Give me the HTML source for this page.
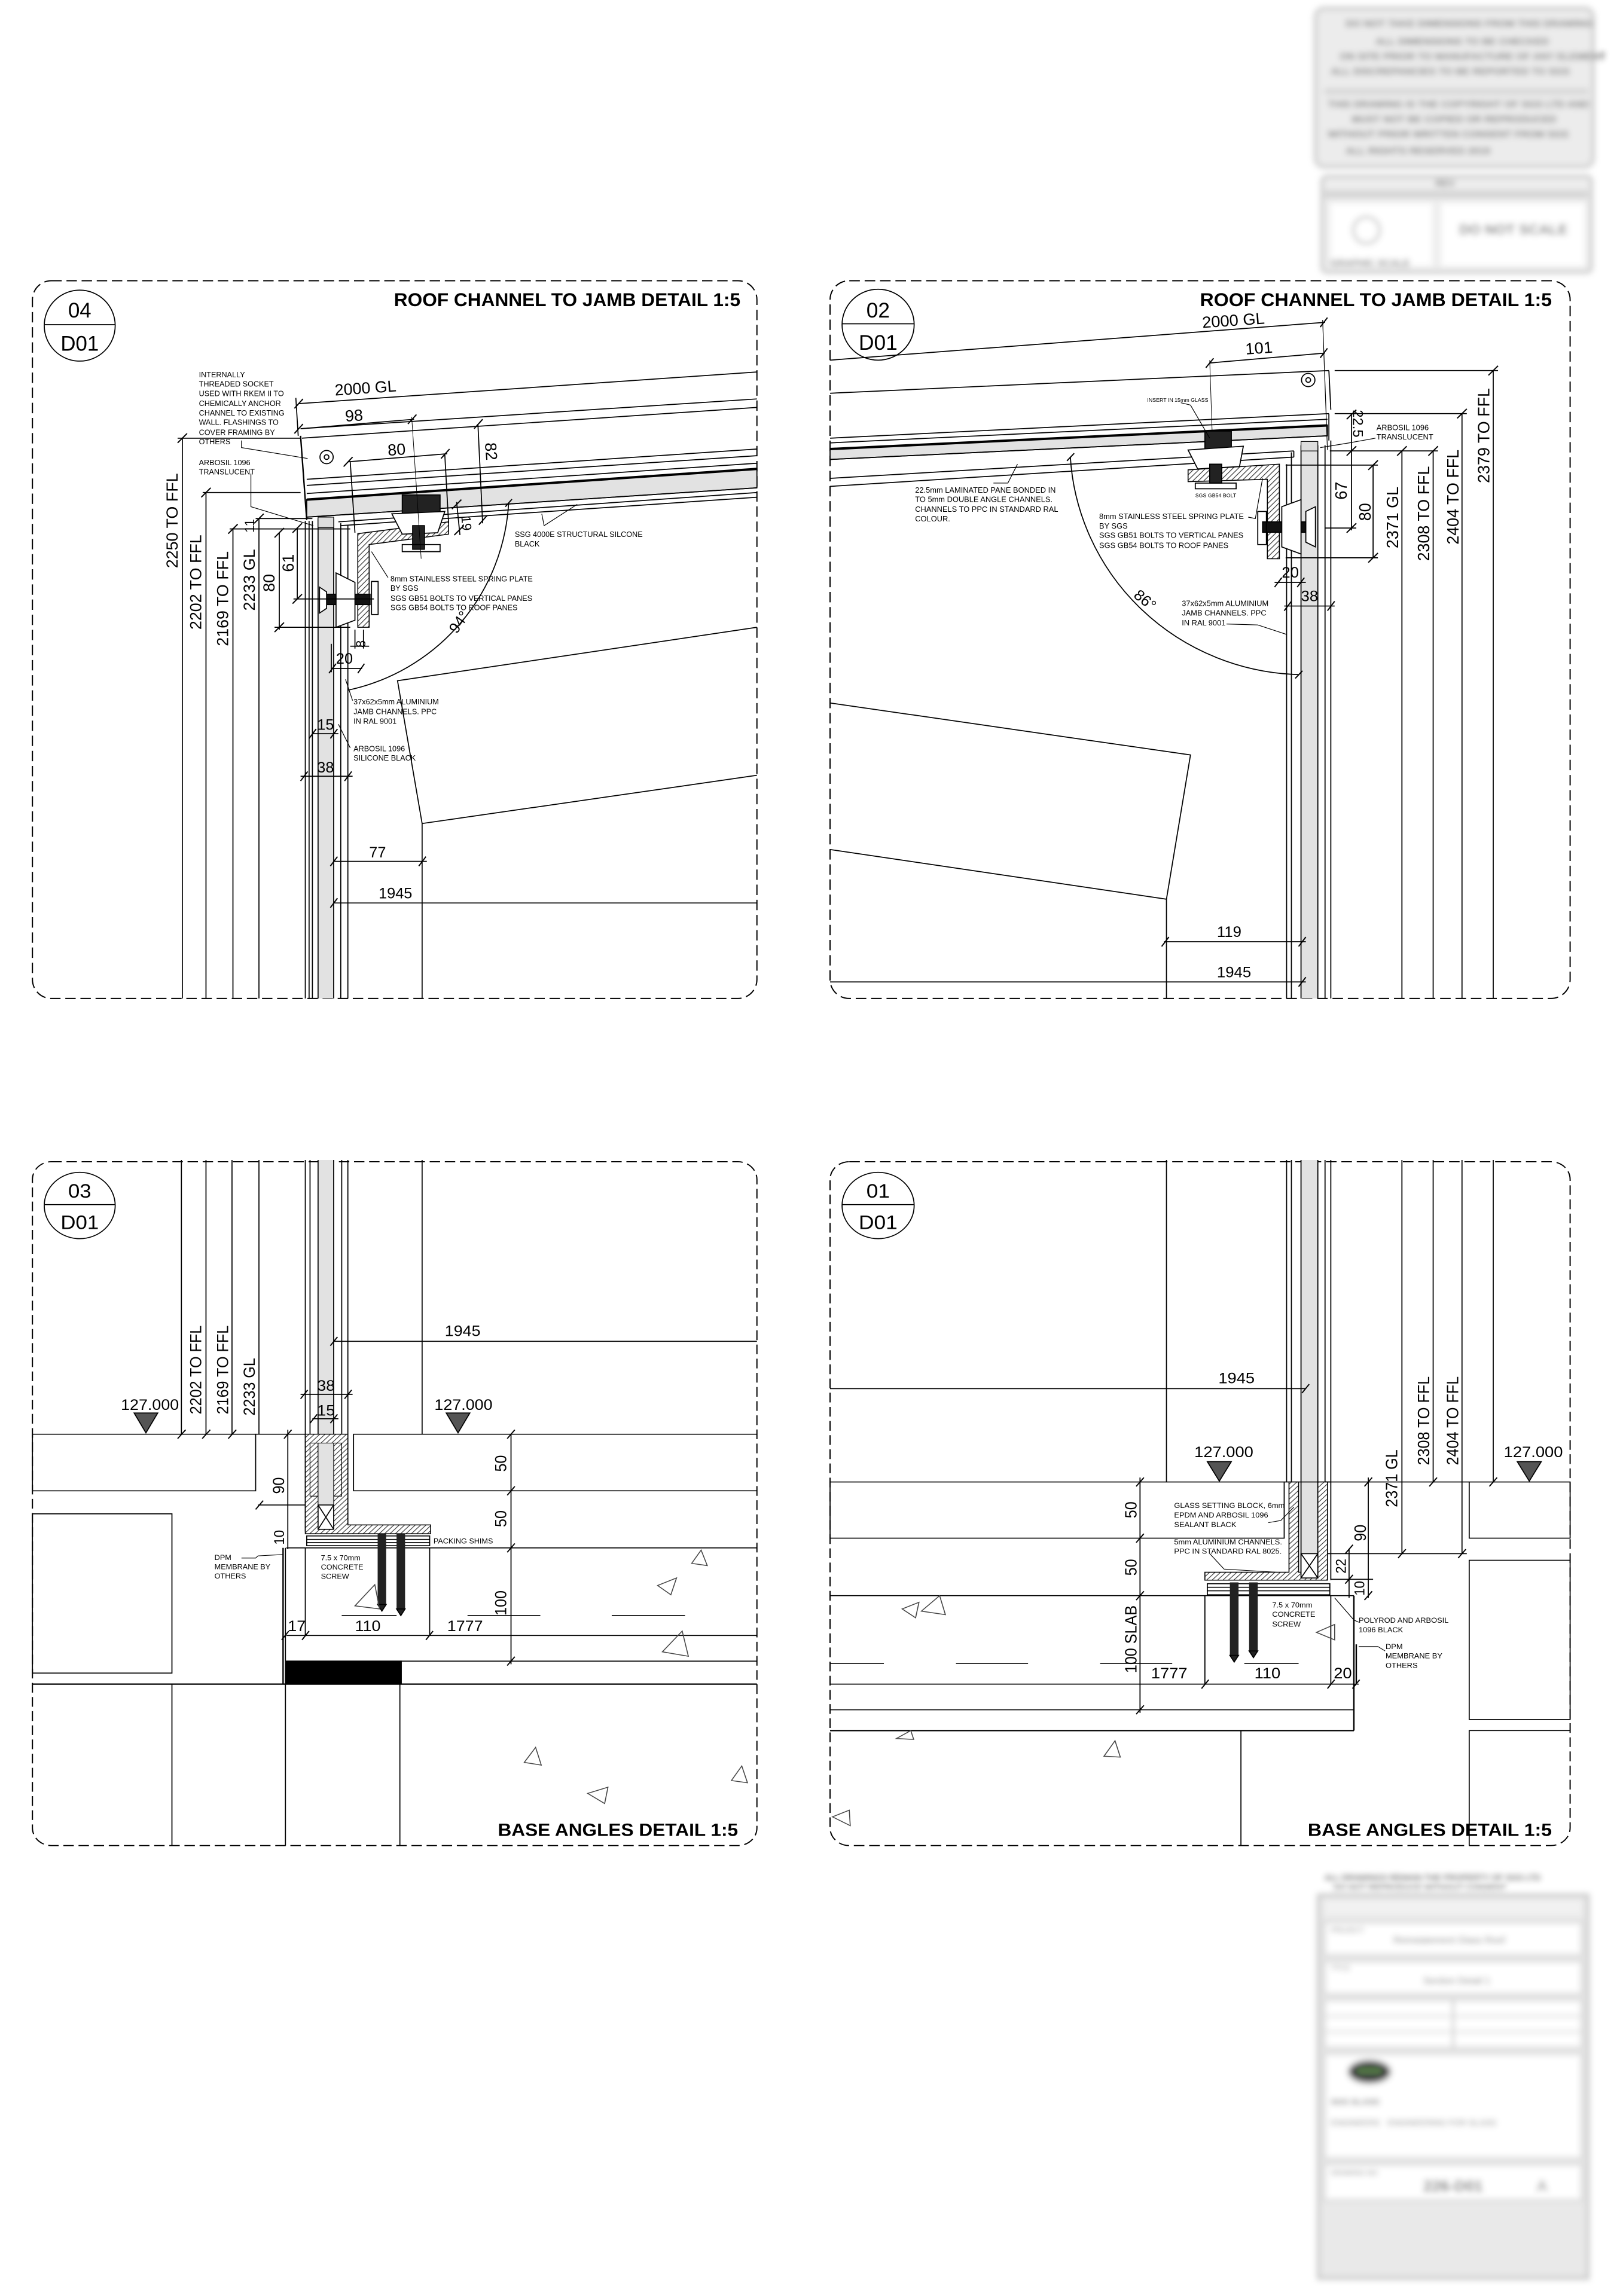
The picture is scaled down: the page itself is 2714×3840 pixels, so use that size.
<!DOCTYPE html>
<html><head><meta charset="utf-8"><style>
html,body{margin:0;padding:0;background:#fff;}
svg{display:block;}
text{font-family:"Liberation Sans",sans-serif;fill:#000;}
</style></head><body>
<svg width="2714" height="3840" viewBox="0 0 2714 3840" xmlns="http://www.w3.org/2000/svg">
<defs>
<pattern id="h" width="8" height="8" patternUnits="userSpaceOnUse" patternTransform="rotate(45)"><rect width="8" height="8" fill="#fff"/><line x1="0" y1="0" x2="0" y2="8" stroke="#333" stroke-width="3"/></pattern>
<filter id="bl"><feGaussianBlur stdDeviation="5"/></filter>
</defs>
<rect width="2714" height="3840" fill="#fff"/>

<!-- TOP RIGHT TITLE BLOCK (blurred) -->
<g filter="url(#bl)" opacity="0.75">
<rect x="2200" y="14" width="464" height="265" rx="14" fill="#e6e6e6" stroke="#bbb" stroke-width="6"/>
<rect x="2215" y="148" width="440" height="10" fill="#c8c8c8"/>
<g font-size="17" fill="#999" font-weight="bold">
<text x="2250" y="45" fill="#999">DO NOT TAKE DIMENSIONS FROM THIS DRAWING</text>
<text x="2300" y="75" fill="#999">ALL DIMENSIONS TO BE CHECKED</text>
<text x="2240" y="100" fill="#999">ON SITE PRIOR TO MANUFACTURE OF ANY ELEMENT</text>
<text x="2225" y="125" fill="#999">ALL DISCREPANCIES TO BE REPORTED TO SGS</text>
<text x="2220" y="180" fill="#999">THIS DRAWING IS THE COPYRIGHT OF SGS LTD AND</text>
<text x="2260" y="205" fill="#999">MUST NOT BE COPIED OR REPRODUCED</text>
<text x="2220" y="230" fill="#999">WITHOUT PRIOR WRITTEN CONSENT FROM SGS</text>
<text x="2250" y="258" fill="#999">ALL RIGHTS RESERVED 2019</text>
</g>
<rect x="2211" y="295" width="450" height="160" rx="8" fill="#e8e8e8" stroke="#bbb" stroke-width="6"/>
<rect x="2215" y="318" width="440" height="14" fill="#c8c8c8"/>
<rect x="2410" y="340" width="240" height="105" fill="#fff"/>
<rect x="2225" y="340" width="170" height="105" fill="#fff"/>
<circle cx="2285" cy="385" r="22" fill="none" stroke="#aaa" stroke-width="4"/>
<text x="2440" y="392" font-size="24" fill="#aaa" font-weight="bold">DO NOT SCALE</text>
<text x="2400" y="312" font-size="16" fill="#888" font-weight="bold">REV</text>
<text x="2225" y="445" font-size="16" fill="#777" font-weight="bold">GRAPHIC SCALE</text>
</g>

<!-- BOTTOM RIGHT TITLE BLOCK (blurred) -->
<g filter="url(#bl)" opacity="0.8">
<text x="2215" y="3145" font-size="14" fill="#aaa">ALL DRAWINGS REMAIN THE PROPERTY OF SGS LTD</text>
<text x="2230" y="3162" font-size="14" fill="#aaa">DO NOT REPRODUCE WITHOUT CONSENT</text>
<rect x="2205" y="3170" width="450" height="640" fill="#e4e4e4" stroke="#bbb" stroke-width="6"/>
<rect x="2215" y="3178" width="430" height="25" fill="#eee"/>
<rect x="2215" y="3215" width="430" height="55" fill="#fff" stroke="#ccc" stroke-width="4"/>
<text x="2225" y="3232" font-size="12" fill="#888">PROJECT</text>
<text x="2330" y="3250" font-size="16" fill="#999">Reinstatement Glass Roof</text>
<rect x="2215" y="3280" width="430" height="55" fill="#fff" stroke="#ccc" stroke-width="4"/>
<text x="2225" y="3295" font-size="12" fill="#888">TITLE</text>
<text x="2380" y="3318" font-size="16" fill="#999">Section Detail 1</text>
<rect x="2215" y="3345" width="430" height="80" fill="#fff" stroke="#ccc" stroke-width="4"/>
<line x1="2430" y1="3345" x2="2430" y2="3425" stroke="#bbb" stroke-width="4"/>
<line x1="2215" y1="3372" x2="2645" y2="3372" stroke="#ccc" stroke-width="3"/>
<line x1="2215" y1="3398" x2="2645" y2="3398" stroke="#ccc" stroke-width="3"/>
<rect x="2215" y="3435" width="430" height="175" fill="#fff" stroke="#ccc" stroke-width="4"/>
<ellipse cx="2290" cy="3465" rx="36" ry="20" fill="#111"/>
<rect x="2270" y="3458" width="40" height="10" fill="#2a5a1a"/>
<text x="2225" y="3520" font-size="14" fill="#777" font-weight="bold">SGS GLASS</text>
<text x="2225" y="3555" font-size="14" fill="#666">ENGINEERS</text>
<text x="2320" y="3555" font-size="14" fill="#888">ENGINEERING FOR GLASS</text>
<rect x="2215" y="3620" width="430" height="60" fill="#fff" stroke="#ccc" stroke-width="4"/>
<text x="2225" y="3638" font-size="12" fill="#888">DRAWING NO</text>
<text x="2380" y="3665" font-size="26" fill="#777" font-weight="bold">226-D01</text>
<text x="2570" y="3665" font-size="26" fill="#888">A</text>
</g>

<!-- ============ PANEL 04 ============ -->
<g transform="translate(40,460) scale(0.7908)" stroke="#000" fill="none" stroke-width="2.2">
<rect x="18" y="12" width="1532" height="1518" rx="40" stroke-dasharray="22,10" stroke-width="2.5"/>
<circle cx="118" cy="107" r="75"/>
<line x1="43" y1="105" x2="193" y2="105"/>
<g stroke="none">
<text x="118" y="90" font-size="44" text-anchor="middle">04</text>
<text x="118" y="160" font-size="44" text-anchor="middle">D01</text>
<text x="1515" y="66" font-size="40" font-weight="bold" text-anchor="end">ROOF CHANNEL TO JAMB DETAIL 1:5</text>
</g>
<line x1="580" y1="272" x2="1550" y2="205"/>
<line x1="585" y1="325" x2="1550" y2="262"/>
<line x1="588" y1="345" x2="1550" y2="280"/>
<polygon points="598,475 1550,410 1550,450 598,512" fill="#e2e2e2"/>
<line x1="598" y1="432" x2="1550" y2="368"/>
<line x1="598" y1="445" x2="1550" y2="382"/>
<line x1="598" y1="462" x2="1550" y2="398"/>
<line x1="598" y1="475" x2="1550" y2="410" stroke-width="5"/>
<line x1="598" y1="512" x2="1550" y2="450"/>
<line x1="665" y1="522" x2="1550" y2="460"/>
<line x1="670" y1="530" x2="1550" y2="470"/>
<line x1="585" y1="340" x2="598" y2="518" stroke-width="3"/>
<circle cx="640" cy="385" r="14"/><circle cx="640" cy="385" r="5"/>
<rect x="622" y="515" width="33" height="1015" fill="#e2e2e2" stroke="none"/>
<line x1="595" y1="520" x2="595" y2="1530"/>
<line x1="603" y1="520" x2="603" y2="1530"/>
<line x1="610" y1="520" x2="610" y2="1530"/>
<line x1="622" y1="515" x2="622" y2="1530"/>
<line x1="655" y1="515" x2="655" y2="1530"/>
<line x1="670" y1="525" x2="670" y2="1530"/>
<line x1="685" y1="530" x2="685" y2="1530"/>
<rect x="622" y="512" width="33" height="22" fill="#ddd" stroke-width="1.5"/>
<polygon points="706,547 898,522 898,548 730,570 730,745 706,745" fill="url(#h)" stroke-width="2"/>
<rect x="800" y="465" width="80" height="40" fill="#222"/>
<polygon points="778,505 890,500 875,545 800,548" fill="#fff"/>
<rect x="822" y="530" width="25" height="50" fill="#222"/>
<rect x="800" y="570" width="80" height="15"/>
<rect x="632" y="675" width="100" height="22" fill="#111"/>
<rect x="735" y="648" width="14" height="70"/>
<polygon points="660,630 700,650 700,730 660,745" fill="#fff"/>
<polygon points="625,660 640,670 640,705 625,715" fill="#fff"/>
<line x1="335" y1="345" x2="335" y2="1530"/>
<line x1="385" y1="460" x2="385" y2="1530"/>
<line x1="442" y1="535" x2="442" y2="1530"/>
<line x1="497" y1="515" x2="497" y2="1530"/>
<line x1="540" y1="545" x2="540" y2="750"/>
<line x1="578" y1="535" x2="578" y2="685"/>
<line x1="325" y1="345" x2="585" y2="345"/>
<line x1="378" y1="460" x2="585" y2="460"/>
<line x1="435" y1="537" x2="690" y2="537"/>
<line x1="490" y1="515" x2="610" y2="515"/>
<line x1="530" y1="745" x2="690" y2="745"/>
<line x1="570" y1="685" x2="740" y2="685"/>
<g stroke-width="2.5">
<line x1="325" y1="355" x2="345" y2="335"/><line x1="375" y1="470" x2="395" y2="450"/>
<line x1="432" y1="547" x2="452" y2="527"/><line x1="487" y1="525" x2="507" y2="505"/>
<line x1="530" y1="755" x2="550" y2="735"/><line x1="568" y1="695" x2="588" y2="675"/>
<line x1="530" y1="555" x2="550" y2="535"/><line x1="568" y1="545" x2="588" y2="525"/>
</g>
<g stroke="none" font-size="34">
<text transform="translate(325,620) rotate(-90)">2250 TO FFL</text>
<text transform="translate(375,750) rotate(-90)">2202 TO FFL</text>
<text transform="translate(432,785) rotate(-90)">2169 TO FFL</text>
<text transform="translate(488,710) rotate(-90)">2233 GL</text>
<text transform="translate(530,670) rotate(-90)">80</text>
<text transform="translate(570,628) rotate(-90)">61</text>
<text x="462" y="530" font-size="28" transform="rotate(-90,482,525)">11</text>
</g>
<line x1="580" y1="340" x2="575" y2="260"/>
<line x1="585" y1="325" x2="825" y2="305"/>
<line x1="685" y1="395" x2="895" y2="378"/>
<line x1="820" y1="300" x2="840" y2="600" stroke-width="1.2"/>
<line x1="690" y1="395" x2="700" y2="545"/>
<line x1="890" y1="380" x2="898" y2="525"/>
<line x1="960" y1="315" x2="970" y2="525"/>
<g stroke-width="2.5">
<line x1="572" y1="282" x2="590" y2="262"/><line x1="572" y1="335" x2="590" y2="315"/>
<line x1="812" y1="315" x2="830" y2="295"/><line x1="676" y1="405" x2="695" y2="385"/>
<line x1="882" y1="388" x2="900" y2="368"/><line x1="952" y1="325" x2="970" y2="305"/>
<line x1="962" y1="528" x2="980" y2="508"/>
<line x1="905" y1="495" x2="925" y2="475"/><line x1="910" y1="550" x2="930" y2="530"/>
</g>
<line x1="915" y1="480" x2="922" y2="550"/>
<g stroke="none" font-size="34">
<text x="658" y="255" transform="rotate(-4,658,255)">2000 GL</text>
<text x="680" y="310" transform="rotate(-4,680,310)">98</text>
<text x="770" y="382" transform="rotate(-4,770,382)">80</text>
<text transform="translate(975,355) rotate(86)">82</text>
<text transform="translate(925,510) rotate(86)" font-size="28">19</text>
</g>
<path d="M1025,482 A 430 430 0 0 1 685,878"/>
<line x1="1018" y1="490" x2="1032" y2="474" stroke-width="2.5"/>
<g stroke="none"><text transform="translate(915,760) rotate(-55)" font-size="32">94°</text></g>
<polyline points="1550,745 790,858 842,1160 1550,1058"/>
<line x1="842" y1="1160" x2="842" y2="1530"/>
<line x1="700" y1="750" x2="700" y2="790"/><line x1="718" y1="750" x2="718" y2="790"/>
<line x1="690" y1="785" x2="730" y2="785"/>
<line x1="650" y1="832" x2="715" y2="832"/>
<line x1="650" y1="780" x2="650" y2="840"/>
<line x1="610" y1="970" x2="665" y2="970"/>
<line x1="585" y1="1060" x2="695" y2="1060"/>
<line x1="655" y1="1240" x2="852" y2="1240"/>
<line x1="655" y1="1328" x2="1550" y2="1328"/>
<g stroke-width="2.5">
<line x1="645" y1="842" x2="660" y2="822"/><line x1="706" y1="842" x2="720" y2="822"/>
<line x1="603" y1="980" x2="618" y2="960"/><line x1="648" y1="980" x2="663" y2="960"/>
<line x1="585" y1="1070" x2="600" y2="1050"/><line x1="678" y1="1070" x2="693" y2="1050"/>
<line x1="648" y1="1250" x2="663" y2="1230"/><line x1="835" y1="1250" x2="850" y2="1230"/>
<line x1="648" y1="1338" x2="663" y2="1318"/>
</g>
<g stroke="none" font-size="32">
<text transform="translate(722,788) rotate(-90)" font-size="28">8</text>
<text x="660" y="822">20</text>
<text x="620" y="962">15</text>
<text x="620" y="1052">38</text>
<text x="730" y="1232">77</text>
<text x="750" y="1318">1945</text>
</g>
<polyline points="460,350 460,365 600,388" stroke-width="1.5"/>
<polyline points="480,420 480,490 612,530" stroke-width="1.5"/>
<polyline points="1095,505 1100,530 1170,485" stroke-width="1.5"/>
<polyline points="735,585 770,640" stroke-width="1.5"/>
<polyline points="680,855 695,900" stroke-width="1.5"/>
<polyline points="665,950 690,1000" stroke-width="1.5"/>
<g stroke="none" font-size="16">
<text x="370" y="216">INTERNALLY</text><text x="370" y="236">THREADED SOCKET</text><text x="370" y="256">USED WITH RKEM II TO</text>
<text x="370" y="277">CHEMICALLY ANCHOR</text><text x="370" y="297">CHANNEL TO EXISTING</text><text x="370" y="317">WALL. FLASHINGS TO</text>
<text x="370" y="338">COVER FRAMING BY</text><text x="370" y="358">OTHERS</text>
<text x="370" y="402">ARBOSIL 1096</text><text x="370" y="422">TRANSLUCENT</text>
<text x="1038" y="554">SSG 4000E STRUCTURAL SILCONE</text><text x="1038" y="574">BLACK</text>
<text x="775" y="648">8mm STAINLESS STEEL SPRING PLATE</text><text x="775" y="668">BY SGS</text>
<text x="775" y="689">SGS GB51 BOLTS TO VERTICAL PANES</text><text x="775" y="709">SGS GB54 BOLTS TO ROOF PANES</text>
<text x="697" y="908">37x62x5mm ALUMINIUM</text><text x="697" y="929">JAMB CHANNELS. PPC</text><text x="697" y="949">IN RAL 9001</text>
<text x="697" y="1007">ARBOSIL 1096</text><text x="697" y="1027">SILICONE BLACK</text>
</g>
</g>

<!-- ============ PANEL 02 ============ -->
<g transform="translate(1380,460) scale(0.8036,0.7908)" stroke="#000" fill="none" stroke-width="2.2">
<rect x="10" y="12" width="1540" height="1518" rx="40" stroke-dasharray="22,10" stroke-width="2.5"/>
<circle cx="110" cy="105" r="75"/>
<line x1="35" y1="103" x2="185" y2="103"/>
<g stroke="none">
<text x="110" y="90" font-size="44" text-anchor="middle">02</text>
<text x="110" y="158" font-size="44" text-anchor="middle">D01</text>
<text x="1512" y="66" font-size="40" font-weight="bold" text-anchor="end">ROOF CHANNEL TO JAMB DETAIL 1:5</text>
</g>
<line x1="10" y1="180" x2="1040" y2="100"/>
<line x1="800" y1="186" x2="1040" y2="165"/>
<line x1="10" y1="250" x2="1048" y2="202"/>
<line x1="1048" y1="202" x2="1052" y2="285"/>
<line x1="10" y1="345" x2="1048" y2="293"/>
<line x1="1048" y1="293" x2="1048" y2="350"/>
<polygon points="10,368 1045,318 1045,340 10,390" fill="#e2e2e2"/>
<line x1="10" y1="355" x2="1045" y2="305"/>
<line x1="10" y1="368" x2="1045" y2="318" stroke-width="5"/>
<line x1="10" y1="390" x2="1045" y2="340"/>
<line x1="10" y1="430" x2="975" y2="372"/>
<line x1="10" y1="447" x2="975" y2="385"/>
<line x1="975" y1="372" x2="975" y2="385"/>
<circle cx="1005" cy="222" r="14"/><circle cx="1005" cy="222" r="5"/>
<line x1="1035" y1="95" x2="1045" y2="370" stroke-width="1.5"/>
<line x1="800" y1="180" x2="808" y2="420" stroke-width="1.2"/>
<rect x="990" y="360" width="35" height="1170" fill="#e2e2e2" stroke="none"/>
<line x1="960" y1="400" x2="960" y2="1530"/>
<line x1="970" y1="375" x2="970" y2="1530"/>
<line x1="990" y1="360" x2="990" y2="1530"/>
<line x1="1025" y1="360" x2="1025" y2="1530"/>
<line x1="1040" y1="360" x2="1040" y2="1530"/>
<line x1="1052" y1="350" x2="1052" y2="1530"/>
<rect x="990" y="352" width="35" height="20" fill="#ddd" stroke-width="1.5"/>
<polygon points="755,412 945,400 945,600 920,600 920,432 755,437" fill="url(#h)" stroke-width="2"/>
<rect x="790" y="330" width="55" height="40" fill="#222"/>
<polygon points="755,370 870,362 862,405 775,410" fill="#fff"/>
<rect x="800" y="400" width="25" height="40" fill="#222"/>
<rect x="770" y="440" width="85" height="12"/>
<rect x="910" y="522" width="110" height="22" fill="#111"/>
<polygon points="950,490 990,475 990,590 950,575" fill="#fff"/>
<polygon points="1000,500 1020,490 1020,575 1000,565" fill="#fff"/>
<rect x="900" y="500" width="18" height="70"/>
<line x1="1060" y1="202" x2="1400" y2="202"/>
<line x1="1060" y1="293" x2="1335" y2="293"/>
<line x1="1050" y1="372" x2="1275" y2="372"/>
<line x1="958" y1="402" x2="1150" y2="402"/>
<line x1="958" y1="598" x2="1150" y2="598"/>
<line x1="1040" y1="535" x2="1105" y2="535"/>
<line x1="1200" y1="372" x2="1200" y2="1530"/>
<line x1="1265" y1="372" x2="1265" y2="1530"/>
<line x1="1325" y1="293" x2="1325" y2="1530"/>
<line x1="1390" y1="202" x2="1390" y2="1530"/>
<line x1="1140" y1="402" x2="1140" y2="598"/>
<line x1="1095" y1="295" x2="1095" y2="540"/>
<g stroke-width="2.5">
<line x1="1380" y1="212" x2="1400" y2="192"/><line x1="1315" y1="303" x2="1335" y2="283"/>
<line x1="1190" y1="382" x2="1210" y2="362"/><line x1="1255" y1="382" x2="1275" y2="362"/>
<line x1="1130" y1="412" x2="1150" y2="392"/><line x1="1130" y1="608" x2="1150" y2="588"/>
<line x1="1085" y1="545" x2="1105" y2="525"/><line x1="1085" y1="382" x2="1105" y2="362"/>
<line x1="1085" y1="305" x2="1105" y2="285"/>
<line x1="1030" y1="110" x2="1045" y2="90"/><line x1="1030" y1="175" x2="1045" y2="155"/>
<line x1="792" y1="196" x2="808" y2="176"/>
</g>
<g stroke="none" font-size="34">
<text transform="translate(1382,440) rotate(-90)">2379 TO FFL</text>
<text transform="translate(1318,570) rotate(-90)">2404 TO FFL</text>
<text transform="translate(1257,605) rotate(-90)">2308 TO FFL</text>
<text transform="translate(1192,578) rotate(-90)">2371 GL</text>
<text transform="translate(1135,520) rotate(-90)">80</text>
<text transform="translate(1085,475) rotate(-90)">67</text>
<text transform="translate(1098,285) rotate(90)" font-size="30">22.5</text>
<text x="785" y="112" transform="rotate(-4,785,112)">2000 GL</text>
<text x="875" y="168" transform="rotate(-4,875,168)">101</text>
</g>
<path d="M510,385 A 490 490 0 0 0 985,845"/>
<line x1="503" y1="393" x2="518" y2="377" stroke-width="2.5"/>
<line x1="978" y1="853" x2="993" y2="837" stroke-width="2.5"/>
<g stroke="none"><text transform="translate(640,680) rotate(40)" font-size="32">86°</text></g>
<polyline points="10,905 760,1015 710,1320 10,1215"/>
<line x1="710" y1="1320" x2="710" y2="1530"/>
<line x1="705" y1="1410" x2="1000" y2="1410"/>
<line x1="10" y1="1495" x2="1000" y2="1495"/>
<line x1="935" y1="650" x2="1000" y2="650"/>
<line x1="955" y1="700" x2="1060" y2="700"/>
<g stroke-width="2.5">
<line x1="700" y1="1420" x2="715" y2="1400"/><line x1="985" y1="1420" x2="1000" y2="1400"/>
<line x1="985" y1="1505" x2="1000" y2="1485"/>
<line x1="935" y1="660" x2="950" y2="640"/><line x1="982" y1="660" x2="997" y2="640"/>
<line x1="955" y1="710" x2="970" y2="690"/><line x1="1045" y1="710" x2="1060" y2="690"/>
</g>
<g stroke="none" font-size="32">
<text x="815" y="1400">119</text>
<text x="815" y="1485">1945</text>
<text x="950" y="640">20</text>
<text x="990" y="690">38</text>
</g>
<polyline points="740,270 760,275 800,345" stroke-width="1.5"/>
<polyline points="350,440 380,440 400,400" stroke-width="1.5"/>
<polyline points="880,512 895,515 910,430" stroke-width="1.5"/>
<polyline points="835,738 900,740 960,760" stroke-width="1.5"/>
<polyline points="1145,345 1090,355 1030,365" stroke-width="1.5"/>
<g stroke="none" font-size="16">
<text x="670" y="268" font-size="11">INSERT IN 15mm GLASS</text>
<text x="770" y="470" font-size="11">SGS GB54 BOLT</text>
<text x="187" y="460">22.5mm LAMINATED PANE BONDED IN</text><text x="187" y="480">TO 5mm DOUBLE ANGLE CHANNELS.</text>
<text x="187" y="501">CHANNELS TO PPC IN STANDARD RAL</text><text x="187" y="521">COLOUR.</text>
<text x="570" y="516">8mm STAINLESS STEEL SPRING PLATE</text><text x="570" y="536">BY SGS</text>
<text x="570" y="556">SGS GB51 BOLTS TO VERTICAL PANES</text><text x="570" y="577">SGS GB54 BOLTS TO ROOF PANES</text>
<text x="1147" y="328">ARBOSIL 1096</text><text x="1147" y="348">TRANSLUCENT</text>
<text x="742" y="700">37x62x5mm ALUMINIUM</text><text x="742" y="720">JAMB CHANNELS. PPC</text><text x="742" y="741">IN RAL 9001</text>
</g>
</g>

<!-- ============ PANEL 03 ============ -->
<g transform="translate(40,1940) scale(0.7908,0.7398)" stroke="#000" fill="none" stroke-width="2.2">
<rect x="18" y="4" width="1532" height="1546" rx="40" stroke-dasharray="22,10" stroke-width="2.5"/>
<circle cx="118" cy="103" r="75"/>
<line x1="43" y1="101" x2="193" y2="101"/>
<g stroke="none">
<text x="118" y="85" font-size="44" text-anchor="middle">03</text>
<text x="118" y="156" font-size="44" text-anchor="middle">D01</text>
<text x="1510" y="1528" font-size="40" font-weight="bold" text-anchor="end">BASE ANGLES DETAIL 1:5</text>
</g>
<rect x="622" y="0" width="33" height="710" fill="#e2e2e2" stroke="none"/>
<line x1="595" y1="0" x2="595" y2="840"/><line x1="605" y1="0" x2="605" y2="620"/>
<line x1="622" y1="0" x2="622" y2="835"/><line x1="655" y1="0" x2="655" y2="835"/>
<line x1="672" y1="0" x2="672" y2="620"/><line x1="685" y1="0" x2="685" y2="825"/>
<line x1="842" y1="0" x2="842" y2="620"/>
<line x1="333" y1="0" x2="333" y2="620"/><line x1="385" y1="0" x2="385" y2="620"/>
<line x1="440" y1="0" x2="440" y2="620"/><line x1="497" y1="0" x2="497" y2="620"/>
<g stroke="none" font-size="34">
<text transform="translate(375,575) rotate(-90)">2202 TO FFL</text>
<text transform="translate(432,575) rotate(-90)">2169 TO FFL</text>
<text transform="translate(488,578) rotate(-90)">2233 GL</text>
<text x="205" y="565">127.000</text><text x="868" y="565">127.000</text>
<text x="890" y="398">1945</text>
<text x="620" y="522">38</text><text x="620" y="578">15</text>
<text transform="translate(550,755) rotate(-90)">90</text>
<text transform="translate(550,870) rotate(-90)" font-size="30">10</text>
<text transform="translate(1020,705) rotate(-90)">50</text>
<text transform="translate(1020,830) rotate(-90)">50</text>
<text transform="translate(1020,1030) rotate(-90)">100</text>
<text x="558" y="1065">17</text><text x="700" y="1065">110</text><text x="895" y="1065">1777</text>
</g>
<polygon points="233,572 283,572 258,617" fill="#555"/>
<polygon points="893,572 943,572 918,617" fill="#555"/>
<line x1="655" y1="410" x2="1550" y2="410"/>
<line x1="585" y1="530" x2="695" y2="530"/>
<line x1="610" y1="585" x2="665" y2="585"/>
<rect x="18" y="620" width="472" height="128"/>
<polyline points="1550,620 697,620 697,748 1550,748"/>
<line x1="490" y1="620" x2="595" y2="620"/>
<line x1="555" y1="877" x2="1550" y2="877"/>
<line x1="555" y1="1075" x2="1550" y2="1075"/>
<line x1="555" y1="1133" x2="1550" y2="1133"/>
<line x1="18" y1="1185" x2="1550" y2="1185" stroke-width="3"/>
<rect x="18" y="800" width="295" height="360"/>
<polyline points="18,1185 313,1185 313,1550"/>
<rect x="553" y="1133" width="245" height="52" fill="#000"/>
<line x1="553" y1="877" x2="553" y2="1550"/>
<line x1="548" y1="877" x2="548" y2="1185" stroke-width="3"/>
<line x1="795" y1="1185" x2="795" y2="1550"/>
<line x1="595" y1="877" x2="595" y2="1075"/>
<line x1="858" y1="877" x2="858" y2="1075"/>
<line x1="672" y1="1030" x2="788" y2="1030"/><line x1="938" y1="1030" x2="1092" y2="1030"/><line x1="1243" y1="1030" x2="1398" y2="1030"/>
<line x1="1030" y1="620" x2="1030" y2="1140"/>
<line x1="558" y1="610" x2="558" y2="880"/>
<line x1="495" y1="780" x2="600" y2="780"/>
<g stroke-width="2.5">
<line x1="325" y1="630" x2="342" y2="610"/><line x1="377" y1="630" x2="394" y2="610"/><line x1="432" y1="630" x2="449" y2="610"/>
<line x1="550" y1="630" x2="566" y2="610"/><line x1="490" y1="790" x2="506" y2="770"/>
<line x1="1022" y1="630" x2="1038" y2="610"/><line x1="1022" y1="758" x2="1038" y2="738"/>
<line x1="1022" y1="887" x2="1038" y2="867"/><line x1="1022" y1="1143" x2="1038" y2="1123"/>
<line x1="545" y1="1085" x2="560" y2="1065"/><line x1="588" y1="1085" x2="603" y2="1065"/><line x1="850" y1="1085" x2="865" y2="1065"/>
<line x1="648" y1="420" x2="663" y2="400"/>
<line x1="585" y1="540" x2="600" y2="520"/><line x1="678" y1="540" x2="693" y2="520"/>
<line x1="605" y1="595" x2="620" y2="575"/><line x1="648" y1="595" x2="663" y2="575"/>
</g>
<path d="M595,620 H685 V825 H860 V845 H595 Z" fill="url(#h)" stroke-width="2"/>
<rect x="605" y="640" width="17" height="120" fill="url(#h)" stroke-width="1.5"/>
<rect x="655" y="640" width="17" height="120" fill="url(#h)" stroke-width="1.5"/>
<rect x="622" y="640" width="33" height="140" fill="#e2e2e2" stroke-width="1.5"/>
<rect x="622" y="780" width="33" height="55" fill="#fff"/>
<line x1="622" y1="780" x2="655" y2="835"/><line x1="655" y1="780" x2="622" y2="835"/>
<rect x="598" y="850" width="260" height="22" fill="#fff"/>
<line x1="598" y1="858" x2="858" y2="858"/><line x1="598" y1="865" x2="858" y2="865"/>
<rect x="748" y="845" width="18" height="160" fill="#222" stroke="none"/>
<polygon points="748,1005 766,1005 757,1020" fill="#222"/>
<rect x="788" y="845" width="18" height="170" fill="#222" stroke="none"/>
<polygon points="788,1015 806,1015 797,1030" fill="#222"/>
<g stroke="#444" stroke-width="2">
<polygon points="1412,912 1445,917 1432,882"/>
<polygon points="1340,962 1380,945 1368,983"/>
<polygon points="1350,1112 1405,1122 1392,1065"/>
<polygon points="700,1008 752,1015 742,960"/>
<polygon points="1058,1362 1094,1368 1082,1328"/>
<polygon points="1192,1432 1235,1418 1228,1455"/>
<polygon points="1496,1403 1530,1408 1518,1370"/>
</g>
<polyline points="460,900 490,900 495,895 548,892" stroke-width="1.5"/>
<g stroke="none" font-size="16">
<text x="403" y="904">DPM</text><text x="403" y="925">MEMBRANE BY</text><text x="403" y="946">OTHERS</text>
<text x="628" y="905">7.5 x 70mm</text><text x="628" y="926">CONCRETE</text><text x="628" y="947">SCREW</text>
<text x="866" y="867">PACKING SHIMS</text>
</g>
</g>

<!-- ============ PANEL 01 ============ -->
<g transform="translate(1380,1940) scale(0.8036,0.7398)" stroke="#000" fill="none" stroke-width="2.2">
<rect x="10" y="4" width="1540" height="1546" rx="40" stroke-dasharray="22,10" stroke-width="2.5"/>
<circle cx="110" cy="103" r="75"/>
<line x1="35" y1="101" x2="185" y2="101"/>
<g stroke="none">
<text x="110" y="85" font-size="44" text-anchor="middle">01</text>
<text x="110" y="156" font-size="44" text-anchor="middle">D01</text>
<text x="1512" y="1528" font-size="40" font-weight="bold" text-anchor="end">BASE ANGLES DETAIL 1:5</text>
</g>
<rect x="990" y="0" width="35" height="890" fill="#e2e2e2" stroke="none"/>
<line x1="960" y1="0" x2="960" y2="728"/><line x1="970" y1="0" x2="970" y2="728"/>
<line x1="990" y1="0" x2="990" y2="945"/><line x1="1025" y1="0" x2="1025" y2="945"/>
<line x1="1040" y1="0" x2="1040" y2="728"/><line x1="1052" y1="0" x2="1052" y2="950"/>
<line x1="710" y1="0" x2="710" y2="728"/>
<line x1="10" y1="517" x2="1000" y2="517"/>
<line x1="1200" y1="0" x2="1200" y2="890"/><line x1="1265" y1="0" x2="1265" y2="728"/>
<line x1="1325" y1="0" x2="1325" y2="890"/><line x1="1390" y1="0" x2="1390" y2="728"/>
<line x1="1040" y1="890" x2="1335" y2="890"/>
<line x1="1130" y1="718" x2="1130" y2="990"/>
<line x1="1090" y1="880" x2="1090" y2="990"/>
<line x1="1052" y1="948" x2="1140" y2="948"/>
<g stroke="none" font-size="34">
<text x="818" y="505">1945</text>
<text x="768" y="672">127.000</text><text x="1412" y="672">127.000</text>
<text transform="translate(1190,785) rotate(-90)">2371 GL</text>
<text transform="translate(1257,690) rotate(-90)">2308 TO FFL</text>
<text transform="translate(1317,690) rotate(-90)">2404 TO FFL</text>
<text transform="translate(1125,862) rotate(-90)">90</text>
<text transform="translate(1083,935) rotate(-90)" font-size="30">22</text>
<text transform="translate(1122,985) rotate(-90)" font-size="30">10</text>
<text transform="translate(648,810) rotate(-90)">50</text>
<text transform="translate(648,940) rotate(-90)">50</text>
<text transform="translate(648,1160) rotate(-90)">100 SLAB</text>
<text x="678" y="1172">1777</text><text x="893" y="1172">110</text><text x="1058" y="1172">20</text>
</g>
<polygon points="795,682 845,682 820,726" fill="#555"/>
<polygon points="1440,682 1490,682 1465,726" fill="#555"/>
<rect x="10" y="728" width="945" height="127"/>
<line x1="955" y1="728" x2="1052" y2="728"/>
<rect x="1340" y="728" width="210" height="127"/>
<rect x="1340" y="905" width="210" height="360"/>
<polyline points="1550,1290 1340,1290 1340,1550"/>
<line x1="1040" y1="728" x2="1340" y2="728"/>
<line x1="10" y1="985" x2="1100" y2="985"/>
<line x1="10" y1="1185" x2="1100" y2="1185"/>
<line x1="10" y1="1243" x2="1100" y2="1243"/>
<line x1="10" y1="1290" x2="1100" y2="1290" stroke-width="3"/>
<line x1="1100" y1="985" x2="1100" y2="1290" stroke-width="3"/>
<line x1="1105" y1="1095" x2="1105" y2="1185" stroke-width="3"/>
<line x1="865" y1="1290" x2="865" y2="1550"/>
<line x1="790" y1="985" x2="790" y2="1185"/>
<line x1="1052" y1="985" x2="1052" y2="1185"/>
<line x1="655" y1="718" x2="655" y2="1250"/>
<line x1="10" y1="1138" x2="122" y2="1138"/><line x1="272" y1="1138" x2="422" y2="1138"/><line x1="572" y1="1138" x2="722" y2="1138"/><line x1="872" y1="1138" x2="985" y2="1138"/>
<g stroke-width="2.5">
<line x1="992" y1="527" x2="1007" y2="507"/>
<line x1="647" y1="738" x2="663" y2="718"/><line x1="647" y1="865" x2="663" y2="845"/>
<line x1="647" y1="995" x2="663" y2="975"/><line x1="647" y1="1253" x2="663" y2="1233"/>
<line x1="783" y1="1195" x2="798" y2="1175"/><line x1="1045" y1="1195" x2="1060" y2="1175"/><line x1="1097" y1="1195" x2="1112" y2="1175"/>
<line x1="1122" y1="738" x2="1138" y2="718"/><line x1="1122" y1="995" x2="1138" y2="975"/>
<line x1="1192" y1="900" x2="1208" y2="880"/><line x1="1257" y1="738" x2="1273" y2="718"/>
<line x1="1317" y1="900" x2="1333" y2="880"/><line x1="1382" y1="738" x2="1398" y2="718"/>
<line x1="1082" y1="890" x2="1098" y2="870"/><line x1="1082" y1="958" x2="1098" y2="938"/>
</g>
<line x1="10" y1="1185" x2="1110" y2="1185"/>
<path d="M965,728 H985 V932 H1025 V728 H1045 V950 H790 V932 H965 Z" fill="url(#h)" stroke-width="2"/>
<rect x="990" y="890" width="35" height="55" fill="#fff"/>
<line x1="990" y1="890" x2="1025" y2="945"/><line x1="1025" y1="890" x2="990" y2="945"/>
<rect x="795" y="958" width="255" height="25" fill="#fff"/>
<line x1="795" y1="966" x2="1050" y2="966"/><line x1="795" y1="974" x2="1050" y2="974"/>
<rect x="842" y="955" width="18" height="165" fill="#222" stroke="none"/>
<polygon points="842,1120 860,1120 851,1135" fill="#222"/>
<rect x="882" y="955" width="18" height="155" fill="#222" stroke="none"/>
<polygon points="882,1110 900,1110 891,1125" fill="#222"/>
<g stroke="#444" stroke-width="2">
<polygon points="160,1015 195,1000 188,1035"/>
<polygon points="200,1020 250,1028 238,985"/>
<polygon points="1022,1068 1060,1085 1060,1050"/>
<polygon points="148,1308 184,1310 178,1290"/>
<polygon points="580,1348 614,1350 603,1313"/>
<polygon points="15,1485 52,1505 50,1470"/>
</g>
<polyline points="922,820 948,815 975,785" stroke-width="1.5"/>
<polyline points="800,890 830,925 940,932" stroke-width="1.5"/>
<polyline points="1110,1045 1100,1040 1060,990" stroke-width="1.5"/>
<polyline points="1165,1110 1150,1100 1110,1100" stroke-width="1.5"/>
<g stroke="none" font-size="16">
<text x="726" y="787">GLASS SETTING BLOCK, 6mm</text><text x="726" y="808">EPDM AND ARBOSIL 1096</text><text x="726" y="830">SEALANT BLACK</text>
<text x="726" y="869">5mm ALUMINIUM CHANNELS.</text><text x="726" y="890">PPC IN STANDARD RAL 8025.</text>
<text x="930" y="1012">7.5 x 70mm</text><text x="930" y="1033">CONCRETE</text><text x="930" y="1055">SCREW</text>
<text x="1110" y="1046">POLYROD AND ARBOSIL</text><text x="1110" y="1068">1096 BLACK</text>
<text x="1166" y="1106">DPM</text><text x="1166" y="1127">MEMBRANE BY</text><text x="1166" y="1148">OTHERS</text>
</g>
</g>
</svg>
</body></html>
